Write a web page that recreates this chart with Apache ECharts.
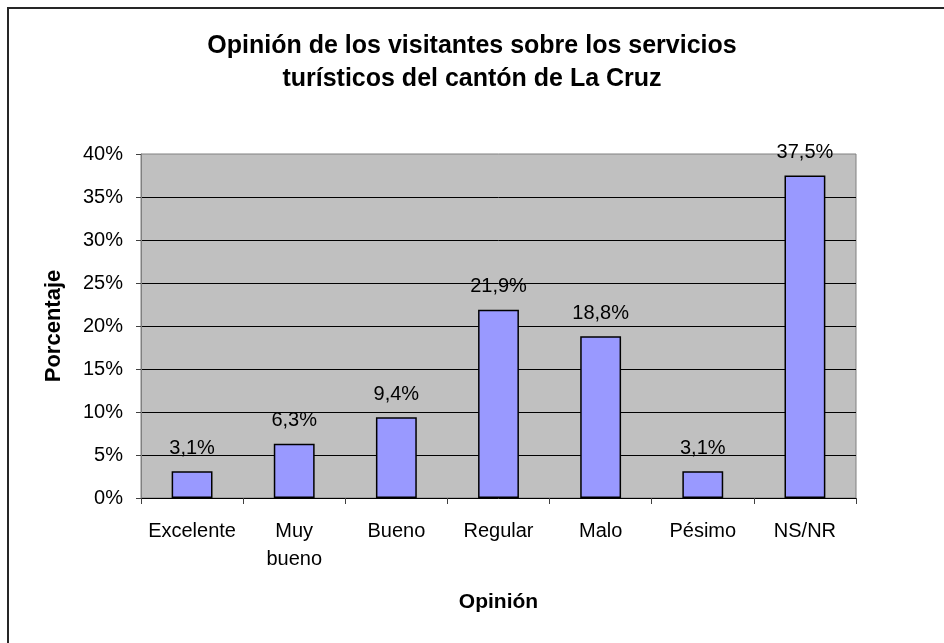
<!DOCTYPE html>
<html>
<head>
<meta charset="utf-8">
<script src="https://cdn.jsdelivr.net/npm/echarts@6/dist/echarts.min.js"></script>
<style>
  html, body { margin: 0; padding: 0; background: #ffffff; }
  #chart { width: 944px; height: 643px; }
</style>
</head>
<body>
<div id="chart"></div>
<script>
// Survey answers: visitors' opinion of tourist services in La Cruz
const categories = ['Excelente', 'Muy bueno', 'Bueno', 'Regular', 'Malo', 'Pésimo', 'NS/NR'];
const percentages = [3.1, 6.3, 9.4, 21.9, 18.8, 3.1, 37.5];
const yTicks = { min: 0, max: 40, step: 5 };

const FONT = '"Liberation Sans", Arial, sans-serif';

const chart = echarts.init(document.getElementById('chart'), null, { renderer: 'canvas' });

chart.setOption({
  animation: false,
  backgroundColor: '#ffffff',
  textStyle: { fontFamily: FONT },
  title: {
    text: 'Opinión de los visitantes sobre los servicios\nturísticos del cantón de La Cruz',
    left: 'center',
    top: 25,
    textStyle: {
      fontFamily: FONT,
      fontSize: 25,
      fontWeight: 'bold',
      color: '#000000',
      lineHeight: 33
    }
  },
  graphic: [
    {
      // frame around the chart area (top and left edges visible)
      type: 'rect',
      shape: { x: 8, y: 8, width: 1000, height: 1000 },
      style: { fill: null, stroke: '#262626', lineWidth: 2 },
      silent: true
    }
  ],
  grid: {
    left: 141,
    right: 88,
    top: 154,
    bottom: 145,
    show: true,
    backgroundColor: '#C0C0C0',
    borderColor: '#808080',
    borderWidth: 1
  },
  xAxis: {
    type: 'category',
    data: categories,
    name: 'Opinión',
    nameLocation: 'middle',
    nameGap: 94,
    nameTextStyle: { fontFamily: FONT, fontSize: 21, fontWeight: 'bold', color: '#000000' },
    axisLine: { show: true, lineStyle: { color: '#000000', width: 1 } },
    axisTick: { show: true, alignWithLabel: false, length: 6, lineStyle: { color: '#404040' } },
    axisLabel: {
      fontFamily: FONT,
      fontSize: 20,
      color: '#000000',
      margin: 19,
      lineHeight: 28,
      interval: 0,
      formatter: v => v.replace(' ', '\n')
    },
    splitLine: { show: false }
  },
  yAxis: {
    type: 'value',
    min: yTicks.min,
    max: yTicks.max,
    interval: yTicks.step,
    name: 'Porcentaje',
    nameLocation: 'middle',
    nameGap: 76,
    nameRotate: 90,
    nameTextStyle: { fontFamily: FONT, fontSize: 22, fontWeight: 'bold', color: '#000000' },
    axisLine: { show: true, lineStyle: { color: '#808080', width: 1 } },
    axisTick: { show: true, length: 5, lineStyle: { color: '#404040' } },
    axisLabel: {
      fontFamily: FONT,
      fontSize: 20,
      color: '#000000',
      margin: 18,
      formatter: '{value}%'
    },
    splitLine: {
      show: true,
      showMinLine: false,
      showMaxLine: false,
      lineStyle: { color: '#000000', width: 1 }
    }
  },
  series: [
    {
      type: 'bar',
      data: percentages,
      barWidth: '40%',
      itemStyle: {
        color: '#9999FF',
        borderColor: '#000000',
        borderWidth: 1.5
      },
      label: {
        show: true,
        position: 'top',
        distance: 13,
        fontFamily: FONT,
        fontSize: 20,
        color: '#000000',
        formatter: p => p.value.toFixed(1).replace('.', ',') + '%'
      }
    }
  ]
});
</script>
</body>
</html>
